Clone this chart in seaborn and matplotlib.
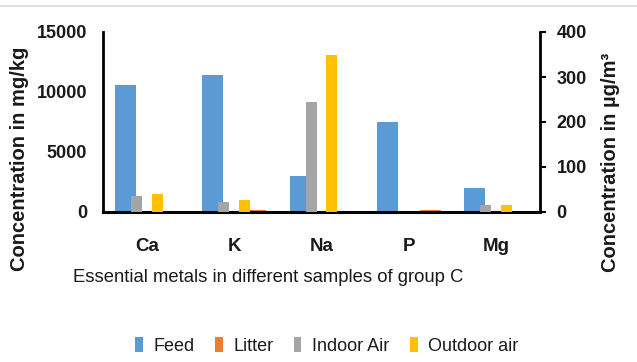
import numpy as np
import pandas as pd
import matplotlib
matplotlib.use("Agg")
import matplotlib.pyplot as plt
import seaborn as sns
from matplotlib.patches import Patch
from matplotlib.lines import Line2D

# ---- data ----
metals = ["Ca", "K", "Na", "P", "Mg"]
feed = [10600, 11400, 3000, 7500, 2000]          # mg/kg (left axis)
litter = [0, 200, 0, 200, 0]                     # mg/kg (left axis)
indoor_air = [35, 23, 245, 0, 16]                # ug/m3 (right axis)
outdoor_air = [39, 27, 350, 0, 16]               # ug/m3 (right axis)
left_ticks = [0, 5000, 10000, 15000]
right_ticks = [0, 100, 200, 300, 400]
x_label = "Essential metals in different samples of group C"
y_label_left = "Concentration in mg/kg"
y_label_right = "Concentration in µg/m³"
series_names = ["Feed", "Litter", "Indoor Air", "Outdoor air"]
colors = ["#5B9BD5", "#ED7D31", "#A5A5A5", "#FFC000"]

prim = pd.DataFrame({
    "metal": metals * 2,
    "value": feed + litter,
    "series": ["Feed"] * 5 + ["Litter"] * 5,
})
sec = pd.DataFrame({
    "metal": metals * 2,
    "value": indoor_air + outdoor_air,
    "series": ["Indoor Air"] * 5 + ["Outdoor air"] * 5,
})

sns.set_theme(style="white")
plt.rcParams["font.family"] = ["Liberation Sans", "DejaVu Sans"]

W, H = 637, 362
fig = plt.figure(figsize=(W / 100, H / 100), dpi=100)
ax = fig.add_axes([103 / W, 1 - 212 / H, (540 - 103) / W, (212 - 32) / H])
ax2 = ax.twinx()

sns.barplot(data=prim, x="metal", y="value", hue="series", order=metals,
            hue_order=["Feed", "Litter"], palette=colors[:2], saturation=1,
            width=0.984, gap=0.512, linewidth=0, legend=False, ax=ax)
sns.barplot(data=sec, x="metal", y="value", hue="series", order=metals,
            hue_order=["Indoor Air", "Outdoor air"], palette=colors[2:], saturation=1,
            width=0.48, gap=0.475, linewidth=0, legend=False, ax=ax2)

ax.set_xlim(-0.5, 4.5)
ax.set_ylim(0, 15000)
ax2.set_ylim(0, 400)
ax.set_yticks(left_ticks)
ax.set_yticklabels([str(t) for t in left_ticks])
ax2.set_yticks(right_ticks)
ax2.set_yticklabels([str(t) for t in right_ticks])

for a in (ax, ax2):
    a.set_xlabel("")
    a.set_ylabel("")
    a.grid(False)
    a.set_facecolor("none")
    for s in a.spines.values():
        s.set_visible(False)

ax.spines["left"].set_visible(True)
ax.spines["left"].set_color("black")
ax.spines["left"].set_linewidth(2)
ax.spines["bottom"].set_visible(True)
ax.spines["bottom"].set_color("black")
ax.spines["bottom"].set_linewidth(2.2)
ax2.spines["right"].set_visible(True)
ax2.spines["right"].set_color("black")
ax2.spines["right"].set_linewidth(2)

ax.tick_params(axis="y", length=0, pad=11.5)
ax.tick_params(axis="x", length=0, pad=19)
ax2.tick_params(axis="y", right=True, length=4, width=1.5, color="black", pad=8, direction="out")
for lab in ax.get_yticklabels() + ax2.get_yticklabels():
    lab.set_fontsize(13)
    lab.set_fontweight("bold")
    lab.set_color("#1a1a1a")
for lab in ax.get_xticklabels():
    lab.set_fontsize(13.5)
    lab.set_fontweight("bold")
    lab.set_color("#1a1a1a")

fig.text(268.5 / W, 1 - 277 / H, x_label, ha="center", va="center",
         fontsize=13.3, color="#1a1a1a")
fig.text(20 / W, 1 - 158.5 / H, y_label_left, ha="center", va="center", rotation=90,
         fontsize=14.5, fontweight="bold", color="#1a1a1a")
fig.text(610 / W, 1 - 162 / H, y_label_right, ha="center", va="center", rotation=90,
         fontsize=14.5, fontweight="bold", color="#1a1a1a")

# top border line
fig.add_artist(Line2D([0, 1], [1 - 6 / H, 1 - 6 / H], transform=fig.transFigure,
                      color="#D9D9D9", linewidth=1.2))

handles = [Patch(facecolor=c, edgecolor="none", label=n) for c, n in zip(colors, series_names)]
fig.legend(handles=handles, loc="center", bbox_to_anchor=(327 / W, 1 - 346 / H), ncol=4,
           frameon=False, handlelength=0.4, handleheight=0.85, handletextpad=0.6,
           columnspacing=1.15, prop={"size": 13}, labelcolor="#1a1a1a")

fig.savefig("out.png", dpi=100, facecolor="white")
